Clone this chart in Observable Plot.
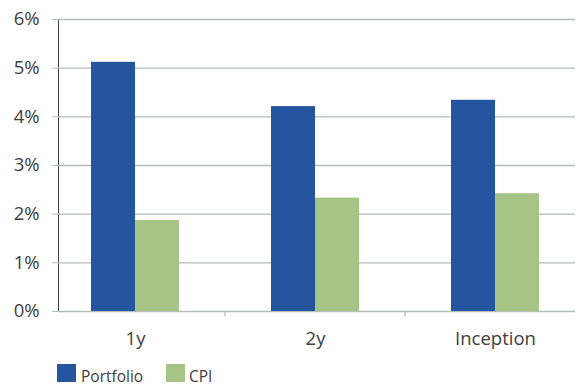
<!DOCTYPE html>
<html>
<head>
<meta charset="utf-8">
<script src="https://cdn.jsdelivr.net/npm/d3@7"></script>
<script src="https://cdn.jsdelivr.net/npm/@observablehq/plot@0.6"></script>
<style>
  body { margin: 0; background: #fff; font-family: "Open Sans", sans-serif; }
  #chart { position: relative; width: 576px; height: 388px; overflow: hidden; }
  #chart svg { display: block; position: absolute; left: 0; top: 0; }
  #chart [aria-label^="y-axis"] line, #chart [aria-label^="y-axis"] path { stroke: #b3bdba; }
  #chart [aria-label^="x-axis"] line, #chart [aria-label^="x-axis"] path { stroke: #b3bdba; }
  .sw { position: absolute; top: 364px; width: 19px; height: 18px; }
  .lab { position: absolute; top: 364px; height: 18px; line-height: 18px; font-size: 15.5px; color: #404040; white-space: nowrap; }
</style>
</head>
<body>
<div id="chart"></div>
<script>
const periods = ["1y", "2y", "Inception"];
const portfolio = [5.12, 4.21, 4.34];
const cpi = [1.87, 2.33, 2.42];
const yTicks = [0, 1, 2, 3, 4, 5, 6];
const seriesNames = ["Portfolio", "CPI"];
const seriesColors = ["#24559e", "#a6c485"];

const portfolioData = periods.map((p, i) => ({period: p, series: seriesNames[0], value: portfolio[i]}));
const cpiData = periods.map((p, i) => ({period: p, series: seriesNames[1], value: cpi[i]}));

const chart = Plot.plot({
  width: 576,
  height: 355,
  marginTop: 19,
  marginBottom: 44,
  marginLeft: 58,
  marginRight: 1,
  style: {fontFamily: "Open Sans, sans-serif", fontSize: "18.5px", color: "#404040", background: "white", overflow: "visible"},
  x: {domain: periods, paddingInner: 0.512, paddingOuter: 0.188, align: 0.471, label: null, tickSize: 0, tickPadding: 20},
  y: {domain: [0, 6], ticks: yTicks, tickFormat: d => d + "%", label: null, tickSize: 6, tickPadding: 13, line: true},
  color: {domain: seriesNames, range: seriesColors},
  marks: [
    Plot.ruleY(yTicks, {stroke: "#b3bdba", strokeWidth: 1.3}),
    Plot.barY(portfolioData, {x: "period", y: "value", fill: "series", insetRight: 44}),
    Plot.barY(cpiData, {x: "period", y: "value", fill: "series", insetLeft: 44}),
    Plot.ruleX(periods.slice(1), {x: d => d, y1: 0, y2: -0.11, dx: -90.5, stroke: "#b3bdba", strokeWidth: 1.3})
  ]
});
const root = document.getElementById("chart");
root.appendChild(chart);

// legend below the plot
const swLeft = [57, 166];
const labLeft = [81, 189];
seriesNames.forEach((name, i) => {
  const sw = document.createElement("div");
  sw.className = "sw";
  sw.style.left = swLeft[i] + "px";
  sw.style.background = seriesColors[i];
  const lab = document.createElement("div");
  lab.className = "lab";
  lab.style.left = labLeft[i] + "px";
  lab.style.top = "367px";
  lab.textContent = name;
  root.appendChild(sw);
  root.appendChild(lab);
});
</script>
</body>
</html>
